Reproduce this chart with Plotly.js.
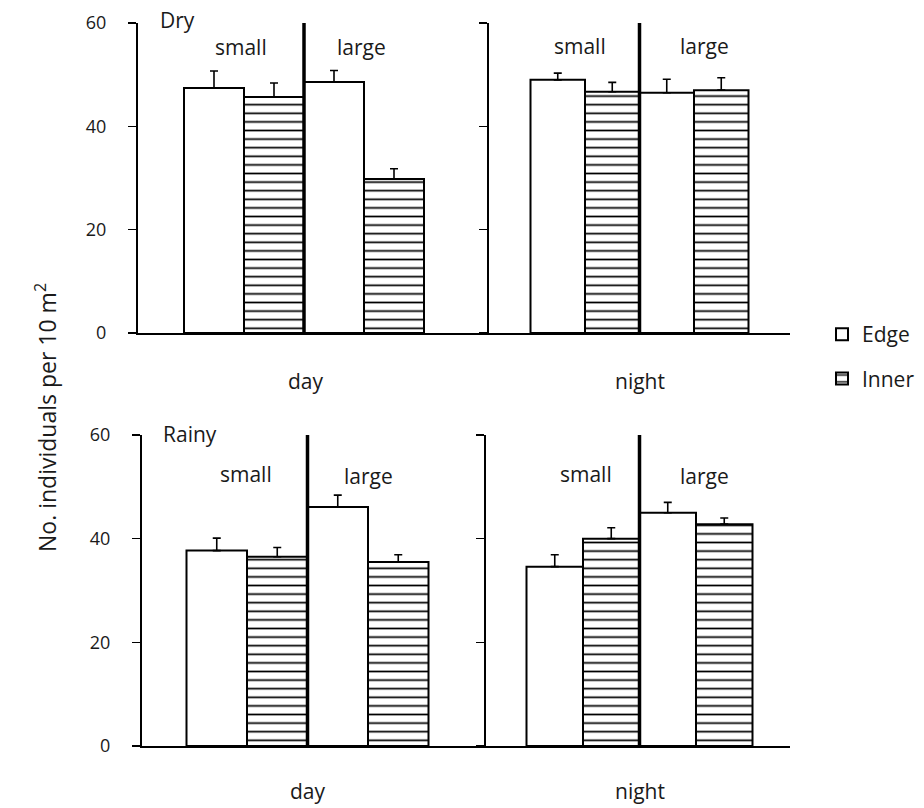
<!DOCTYPE html>
<html>
<head>
<meta charset="utf-8">
<script src="https://cdn.plot.ly/plotly-3.0.1.min.js"></script>
<style>html,body{margin:0;padding:0;background:#fff;}#chart{width:924px;height:808px;}</style>
</head>
<body>
<div id="chart"></div>
<script>
// ---- data ----
const categories = ['small', 'large'];
const seriesNames = ['Edge', 'Inner'];
const panelNames = ['Dry day', 'Dry night', 'Rainy day', 'Rainy night'];

const dryDayEdge = [47.4, 48.6];
const dryDayEdgeErr = [3.3, 2.2];
const dryDayInner = [45.7, 29.8];
const dryDayInnerErr = [2.7, 2.0];

const dryNightEdge = [49.0, 46.5];
const dryNightEdgeErr = [1.3, 2.6];
const dryNightInner = [46.7, 47.0];
const dryNightInnerErr = [1.8, 2.4];

const rainyDayEdge = [37.7, 46.1];
const rainyDayEdgeErr = [2.4, 2.3];
const rainyDayInner = [36.5, 35.5];
const rainyDayInnerErr = [1.8, 1.4];

const rainyNightEdge = [34.6, 45.0];
const rainyNightEdgeErr = [2.3, 2.0];
const rainyNightInner = [40.0, 42.8];
const rainyNightInnerErr = [2.1, 1.2];

const yTicks = [0, 20, 40, 60];

// ---- build ----
const W = 924, H = 808;
const px = v => v / W;
const py = v => 1 - v / H;
const FONT = 'Open Sans, Noto Sans, sans-serif';
const TXT = '#1a1a1a';

const panels = [
  {edge: dryDayEdge, edgeErr: dryDayEdgeErr, inner: dryDayInner, innerErr: dryDayInnerErr, xa: 'x', ya: 'y'},
  {edge: dryNightEdge, edgeErr: dryNightEdgeErr, inner: dryNightInner, innerErr: dryNightInnerErr, xa: 'x2', ya: 'y2'},
  {edge: rainyDayEdge, edgeErr: rainyDayEdgeErr, inner: rainyDayInner, innerErr: rainyDayInnerErr, xa: 'x3', ya: 'y3'},
  {edge: rainyNightEdge, edgeErr: rainyNightEdgeErr, inner: rainyNightInner, innerErr: rainyNightInnerErr, xa: 'x4', ya: 'y4'}
];

const traces = [];
panels.forEach((p, i) => {
  const errStyle = (arr) => ({type: 'data', array: arr, arrayminus: arr.map(() => 0), symmetric: false,
    color: '#000', thickness: 1.6, width: 4});
  traces.push({
    type: 'bar', name: seriesNames[0], x: categories, y: p.edge, xaxis: p.xa, yaxis: p.ya,
    legendgroup: 'edge', showlegend: i === 0,
    marker: {color: '#fff', line: {color: '#000', width: 2}},
    error_y: errStyle(p.edgeErr), hovertemplate: panelNames[i] + ' %{x}: %{y}<extra>Edge</extra>'
  });
  traces.push({
    type: 'bar', name: seriesNames[1], x: categories, y: p.inner, xaxis: p.xa, yaxis: p.ya,
    legendgroup: 'inner', showlegend: i === 0,
    marker: {color: '#fff', line: {color: '#000', width: 2},
      pattern: {shape: '-', size: 8.6, solidity: 0.2, fgcolor: '#000', bgcolor: '#fff', fillmode: 'replace'}},
    error_y: errStyle(p.innerErr), hovertemplate: panelNames[i] + ' %{x}: %{y}<extra>Inner</extra>'
  });
});

// panel geometry (pixels)
const geo = [
  {x0: 138, x1: 489, c0: 244, step: 120, top: 23, bot: 333, labels: true},
  {x0: 489, x1: 790, c0: 585, step: 109, top: 23, bot: 333, labels: false},
  {x0: 142, x1: 486, c0: 247, step: 121, top: 435, bot: 746, labels: true},
  {x0: 486, x1: 790, c0: 583, step: 113, top: 435, bot: 746, labels: false}
];

const layout = {
  width: W, height: H,
  margin: {l: 0, r: 0, t: 0, b: 0},
  paper_bgcolor: '#fff', plot_bgcolor: 'rgba(0,0,0,0)',
  barmode: 'group', bargap: 0, bargroupgap: 0,
  font: {family: FONT, color: TXT, size: 18},
  showlegend: true,
  legend: {x: px(822), y: py(314), xanchor: 'left', yanchor: 'top',
    font: {family: FONT, size: 21, color: TXT}, tracegroupgap: 14, bgcolor: 'rgba(0,0,0,0)'},
  shapes: [],
  annotations: []
};

geo.forEach((g, i) => {
  const sx = i === 0 ? '' : String(i + 1);
  layout['xaxis' + sx] = {
    domain: [px(g.x0), px(g.x1)], anchor: 'y' + sx,
    type: 'category',
    range: [(g.x0 - g.c0) / g.step, (g.x1 - g.c0) / g.step],
    showline: true, linecolor: '#000', linewidth: 2,
    ticks: '', showticklabels: false, showgrid: false, zeroline: false, fixedrange: true
  };
  layout['yaxis' + sx] = {
    domain: [py(g.bot), py(g.top)], anchor: 'x' + sx,
    range: [0, 60], tickvals: yTicks, ticktext: yTicks.map(String),
    showticklabels: g.labels, ticks: 'outside', ticklen: 8, tickwidth: 1.5, tickcolor: '#000',
    ticklabelstandoff: 18,
    showline: true, linecolor: '#000', linewidth: 2,
    showgrid: false, zeroline: false, fixedrange: true,
    tickfont: {family: FONT, size: 18, color: TXT}
  };
  // divider between small and large
  layout.shapes.push({type: 'line', xref: 'x' + sx, yref: 'y' + sx,
    x0: 0.5, x1: 0.5, y0: 0, y1: 60, line: {color: '#000', width: 3.5}});
});

const ann = (text, x, y, opts = {}) => Object.assign({
  text, x: px(x), y: py(y), xref: 'paper', yref: 'paper', showarrow: false,
  xanchor: 'center', yanchor: 'middle', font: {family: FONT, size: 21, color: TXT}
}, opts);

layout.annotations.push(
  ann('Dry', 158, 20, {xanchor: 'left'}),
  ann('small', 241, 47), ann('large', 361, 47),
  ann('small', 580, 46), ann('large', 704, 46),
  ann('day', 306, 381), ann('night', 640, 381),
  ann('Rainy', 161, 434, {xanchor: 'left'}),
  ann('small', 246, 474), ann('large', 368, 476),
  ann('small', 586, 474), ann('large', 704, 476),
  ann('day', 308, 791), ann('night', 640, 791),
  ann('No. individuals per 10 m<sup>2</sup>', 46, 418, {textangle: -90, font: {family: FONT, size: 23, color: TXT}})
);

Plotly.newPlot('chart', traces, layout, {displayModeBar: false, staticPlot: true});
</script>
</body>
</html>
